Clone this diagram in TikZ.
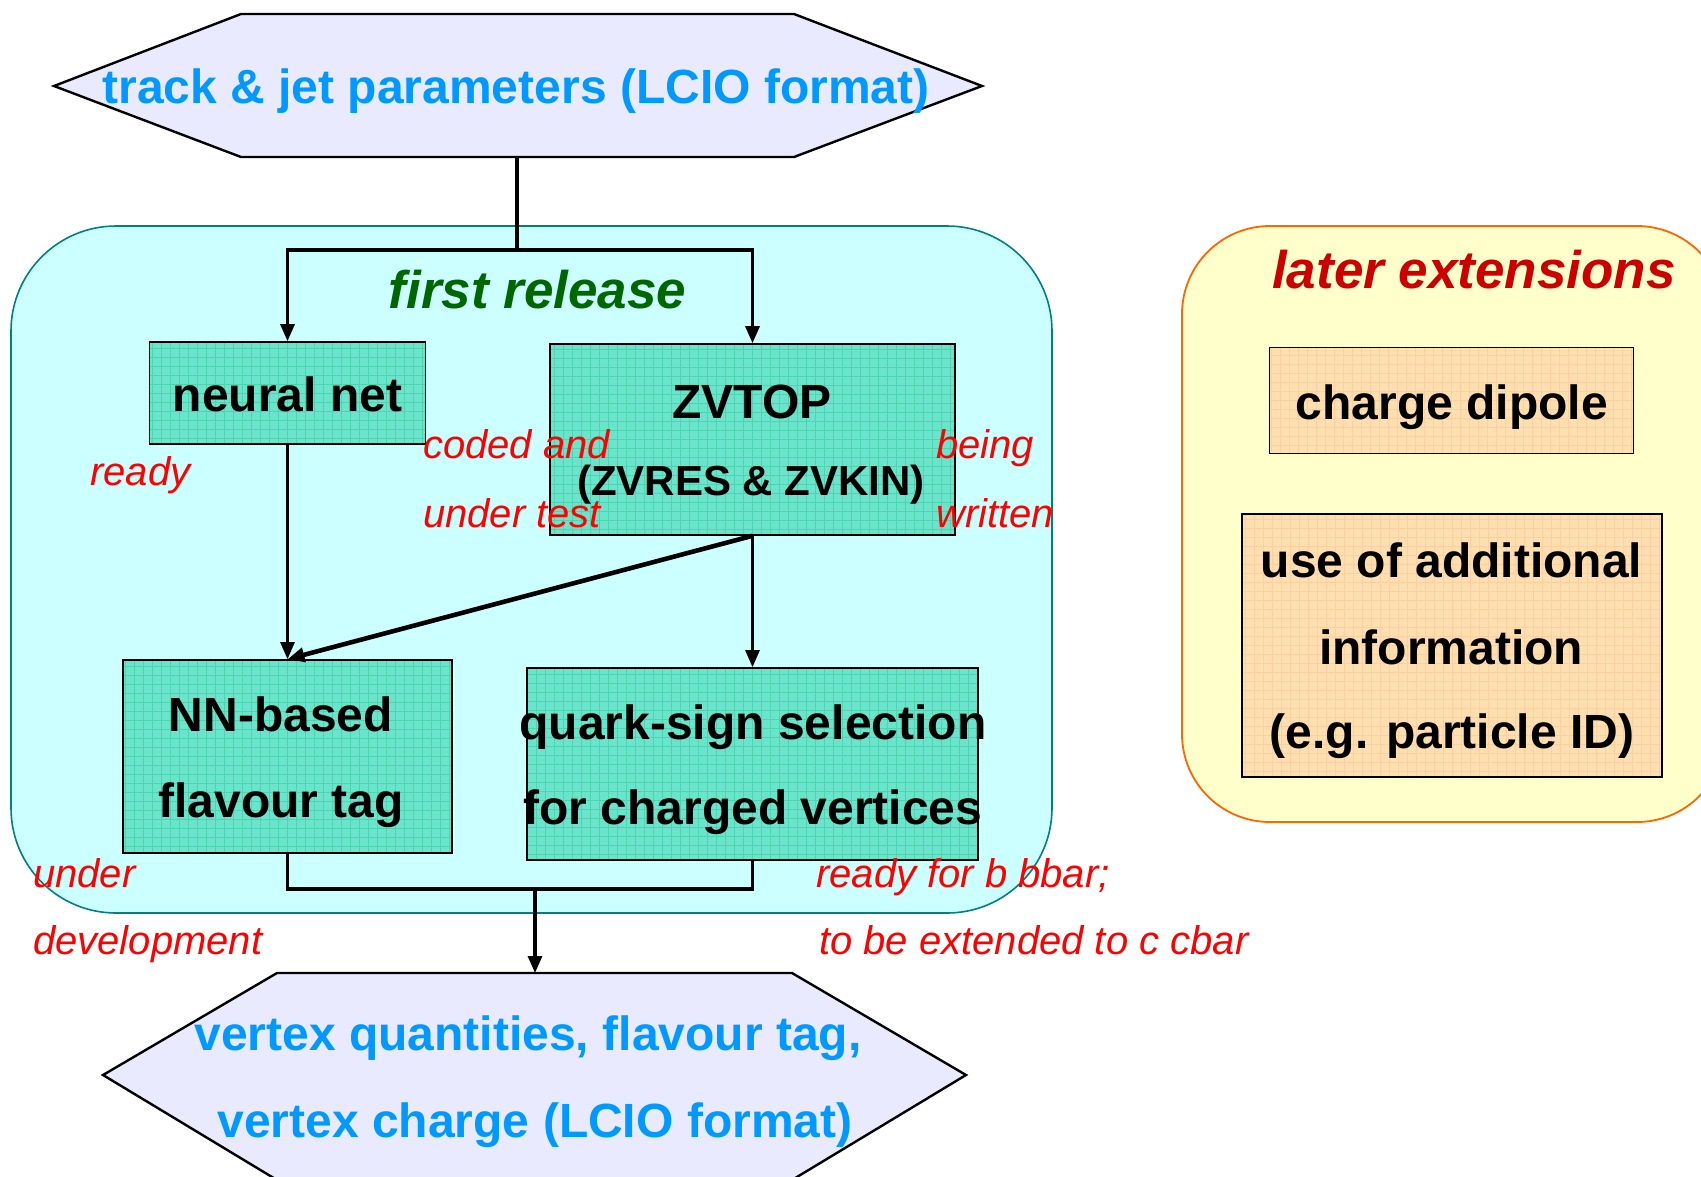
\documentclass[tikz,border=0pt]{standalone}
\usepackage{fontspec}
\setmainfont{Liberation Sans}
\usetikzlibrary{arrows.meta}
\definecolor{cyanfill}{RGB}{204,255,255}
\definecolor{cyanline}{RGB}{0,128,128}
\definecolor{yelfill}{RGB}{255,255,204}
\definecolor{yelline}{RGB}{255,102,0}
\definecolor{boxgreen}{RGB}{106,228,202}
\definecolor{gridgreen}{RGB}{78,212,176}
\definecolor{peach}{RGB}{255,222,175}
\definecolor{peachgrid}{RGB}{252,208,160}
\definecolor{hexfill}{RGB}{234,234,255}
\definecolor{bluetxt}{RGB}{0,153,255}
\definecolor{greentxt}{RGB}{0,102,0}
\definecolor{darkred}{RGB}{204,0,0}
\definecolor{labred}{RGB}{255,0,0}
\begin{document}
\begin{tikzpicture}[x=1pt,y=-1pt,
  greenbox/.style={draw=black, line width=1.6pt, fill=boxgreen, inner sep=0pt,
    path picture={\draw[gridgreen, line width=0.8pt, step=9pt]
      (path picture bounding box.south west) grid (path picture bounding box.north east);}},
  peachbox/.style={draw=black, line width=1.6pt, fill=peach, inner sep=0pt,
    path picture={\draw[peachgrid, line width=0.6pt, step=9pt]
      (path picture bounding box.south west) grid (path picture bounding box.north east);}},
  txt/.style={inner sep=0pt, anchor=base, font=\bfseries\fontsize{48}{58}\selectfont},
  bluet/.style={txt, text=bluetxt},
  headt/.style={inner sep=0pt, anchor=base, font=\bfseries\itshape\fontsize{53}{62}\selectfont},
  lbl/.style={inner sep=0pt, anchor=base west, text=labred, font=\itshape\fontsize{40}{46}\selectfont},
  conn/.style={draw=black, line width=3.2pt, -{Triangle[length=17pt,width=14pt]}},
  hexshape/.style={draw=black, line width=2.4pt, fill=hexfill}
]
\useasboundingbox (0,0) rectangle (1701,1176);
\fill[white] (0,0) rectangle (1701,1176);

% group areas
\draw[cyanline, line width=1.6pt, fill=cyanfill, rounded corners=105pt] (11,226) rectangle (1052,913);
\begin{scope}
\clip (0,0) rectangle (1701,1176);
\draw[yelline, line width=1.8pt, fill=yelfill, rounded corners=88pt] (1182,226) rectangle (1725,822);
\end{scope}

% hexagons
\draw[hexshape] (241,14) -- (794,14) -- (982,86) -- (794,157) -- (241,157) -- (54,86) -- cycle;
\draw[hexshape] (277,973) -- (792,973) -- (966,1075) -- (792,1180) -- (277,1180) -- (103,1075) -- cycle;
\coordinate (hexTbot) at (517,157);
\coordinate (hexBtop) at (535,973);

% boxes
\node[greenbox, minimum width=276pt, minimum height=102pt] (nn) at (287.5,393) {};
\node[greenbox, minimum width=405pt, minimum height=191pt] (zv) at (752.5,439.5) {};
\node[greenbox, minimum width=329pt, minimum height=193pt] (nnb) at (287.5,756.5) {};
\node[greenbox, minimum width=451pt, minimum height=192pt] (qs) at (752.5,764) {};
\node[peachbox, minimum width=364pt, minimum height=106pt] (cd) at (1451.5,400.5) {};
\node[peachbox, minimum width=420pt, minimum height=263pt] (ua) at (1452,645.5) {};

% connectors
\coordinate (split) at (517,250);
\draw[line width=3.6pt] (hexTbot) -- (split);
\draw[conn] (split) -| (nn.north);
\draw[conn] (split) -| (zv.north);
\draw[conn, line width=2.6pt] (nn.south) -- (nnb.north);
\draw[conn, line width=4.6pt] (zv.south) -- (nnb.north);
\draw[conn, line width=2.6pt] (zv.south) -- (qs.north);
\coordinate (merge) at (535,889);
\draw[line width=3.6pt] (nnb.south) |- (merge) -| (qs.south);
\draw[conn] (merge) -- (hexBtop);

% texts
\node[bluet] (tTop) at (516,103) {track \& jet parameters (LCIO format)};
\node[headt, text=greentxt] (tFirst) at (537.5,308) {first release};
\node[headt, text=darkred] (tLater) at (1474,288) {later extensions};
\node[txt] (tNN) at (287.5,411) {neural net};
\node[txt] (tZV) at (752,418) {ZVTOP};
\node[txt, font=\bfseries\fontsize{42}{50}\selectfont] (tZV2) at (751,495) {(ZVRES \& ZVKIN)};
\node[txt] (tNNB1) at (281,731) {NN-based};
\node[txt] (tNNB2) at (281,817) {flavour tag};
\node[txt] (tQS1) at (753,739) {quark-sign selection};
\node[txt] (tQS2) at (753,824) {for charged vertices};
\node[txt] (tCD) at (1452,419) {charge dipole};
\node[txt] (tUA1) at (1451.5,577) {use of additional};
\node[txt] (tUA2) at (1451,664) {information};
\node[txt] (tUA3) at (1452,748) {(e.g. particle ID)};
\node[bluet] (tB1) at (528,1050) {vertex quantities, flavour tag,};
\node[bluet] (tB2) at (535,1137) {vertex charge (LCIO format)};

% red status labels
\node[lbl] (lReady) at (90,485) {ready};
\node[lbl] (lCoded1) at (423,458) {coded and};
\node[lbl] (lCoded2) at (423,527) {under test};
\node[lbl] (lBeing1) at (936,458) {being};
\node[lbl] (lBeing2) at (936,527) {written};
\node[lbl] (lUnder1) at (33,887) {under};
\node[lbl] (lUnder2) at (33,954) {development};
\node[lbl] (lRdy1) at (816,887) {ready for b bbar;};
\node[lbl] (lRdy2) at (819,954) {to be extended to c cbar};
\end{tikzpicture}
\end{document}
